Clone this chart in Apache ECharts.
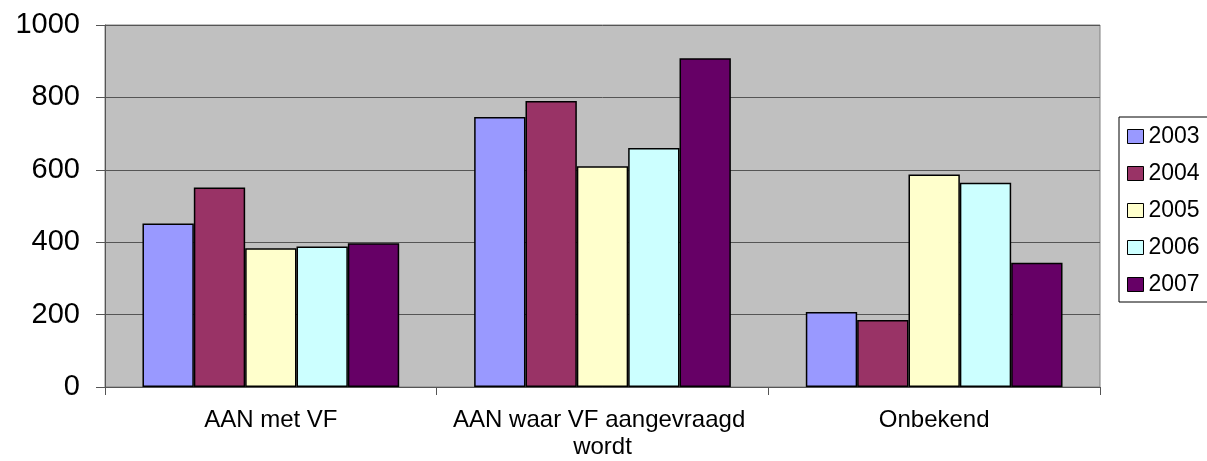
<!DOCTYPE html>
<html>
<head>
<meta charset="utf-8">
<script src="https://cdn.jsdelivr.net/npm/echarts@6/dist/echarts.min.js"></script>
<style>
  html, body { margin: 0; padding: 0; background: #fff; }
  #chart { width: 1207px; height: 461px; }
</style>
</head>
<body>
<div id="chart"></div>
<script>
// categorieën en jaren
var categories = ['AAN met VF', 'AAN waar VF aangevraagd wordt', 'Onbekend'];
var years = ['2003', '2004', '2005', '2006', '2007'];
var colors = ['#9999FF', '#993366', '#FFFFCC', '#CCFFFF', '#660066'];

// waarden per jaar (volgorde = categories)
var v2003 = [452, 746, 207];
var v2004 = [551, 790, 185];
var v2005 = [383, 610, 587];
var v2006 = [388, 660, 564];
var v2007 = [397, 908, 343];
var values = [v2003, v2004, v2005, v2006, v2007];

var yTicks = { min: 0, max: 1000, interval: 200 };

var font = "'Liberation Sans', Arial, sans-serif";

var chart = echarts.init(document.getElementById('chart'));

var series = years.map(function (y, i) {
  return {
    name: y,
    type: 'bar',
    data: values[i],
    barGap: '0%',
    barCategoryGap: '22.6%',
    itemStyle: {
      color: colors[i],
      borderColor: '#000',
      borderWidth: 1.5
    }
  };
});

var option = {
  animation: false,
  textStyle: { fontFamily: font },
  grid: {
    left: 105,
    right: 107,
    top: 25,
    bottom: 73.5,
    show: true,
    backgroundColor: '#C0C0C0',
    borderColor: '#808080',
    borderWidth: 1
  },
  legend: {
    orient: 'vertical',
    left: 1119,
    top: 117,
    padding: [8, 8, 6, 8],
    itemWidth: 16,
    itemHeight: 14,
    itemGap: 14,
    borderColor: '#000',
    borderWidth: 1,
    backgroundColor: '#fff',
    itemStyle: { borderColor: '#000', borderWidth: 1 },
    textStyle: { fontSize: 23, lineHeight: 22, color: '#000', fontFamily: font },
    data: years.map(function (y) { return { name: y, icon: 'rect' }; })
  },
  xAxis: {
    type: 'category',
    data: categories,
    axisLine: { lineStyle: { color: '#555', width: 1 } },
    axisTick: { show: true, length: 8, interval: 0, lineStyle: { color: '#555' } },
    axisLabel: {
      interval: 0,
      color: '#000',
      fontSize: 24,
      lineHeight: 27,
      margin: 20,
      width: 320,
      overflow: 'break',
      fontFamily: font
    }
  },
  yAxis: {
    type: 'value',
    min: yTicks.min,
    max: yTicks.max,
    interval: yTicks.interval,
    axisLine: { show: true, lineStyle: { color: '#555', width: 1 } },
    axisTick: { show: true, length: 9, lineStyle: { color: '#555' } },
    axisLabel: {
      color: '#000',
      fontSize: 29,
      margin: 25,
      fontFamily: font,
      formatter: function (v) { return String(v); }
    },
    splitLine: { lineStyle: { color: '#555', width: 1 } }
  },
  series: series
};

chart.setOption(option);
</script>
</body>
</html>
